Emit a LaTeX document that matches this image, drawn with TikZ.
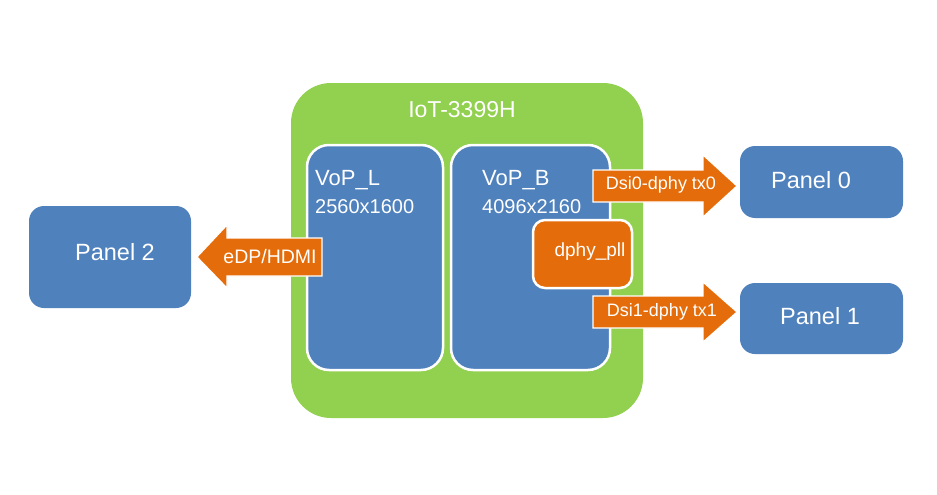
\documentclass[tikz,border=0pt]{standalone}
\usepackage{fontspec}
\setmainfont{Liberation Sans}
\definecolor{boardgreen}{HTML}{92D050}
\definecolor{vopblue}{HTML}{4F81BD}
\definecolor{pllorange}{HTML}{E46C0A}
\tikzset{
  box/.style={draw=white, line width=2.5pt, fill=vopblue, rounded corners=#1, inner sep=0pt},
  panelbox/.style={fill=vopblue, rounded corners=15pt, inner sep=0pt},
  blockarrow/.style={fill=pllorange, draw=white, line width=1.2pt, line join=miter},
  wtext/.style={text=white, inner sep=0pt, anchor=center},
}
\begin{document}
\begin{tikzpicture}[x=1pt,y=-1pt]
\useasboundingbox[fill=white] (0,0) rectangle (937,495);
% board
\node[fill=boardgreen, rounded corners=40pt, minimum width=352pt, minimum height=335pt, inner sep=0pt] (board) at (467,250.5) {};
\node[wtext, font=\fontsize{23}{27}\selectfont] (boardlbl) at (462,110) {IoT-3399H};
% VoPs
\node[box=22pt, minimum width=136pt, minimum height=225pt] (vopl) at (375,257.5) {};
\node[box=22pt, minimum width=159pt, minimum height=225pt] (vopb) at (530.5,257.5) {};
\node[wtext, anchor=west, font=\fontsize{22}{26}\selectfont] (voplname) at (315,180) {VoP\_L};
\node[wtext, anchor=west, font=\fontsize{20}{24}\selectfont] (voplres) at (315,207) {2560x1600};
\node[wtext, anchor=west, font=\fontsize{22}{26}\selectfont] (vopbname) at (482,180) {VoP\_B};
\node[wtext, anchor=west, font=\fontsize{20}{24}\selectfont] (vopbres) at (482,207) {4096x2160};
% panels
\node[panelbox, minimum width=162pt, minimum height=102pt] (panel2) at (110,257) {};
\node[wtext, font=\fontsize{23.5}{27}\selectfont] (p2lbl) at (115,252) {Panel 2};
\node[panelbox, minimum width=163pt, minimum height=72pt] (panel0) at (821.5,182) {};
\node[wtext, font=\fontsize{23.5}{27}\selectfont] (p0lbl) at (811,180) {Panel 0};
\node[panelbox, minimum width=163pt, minimum height=71pt] (panel1) at (821.5,318.5) {};
\node[wtext, font=\fontsize{23.5}{27}\selectfont] (p1lbl) at (820,316) {Panel 1};
% block arrows
\draw[blockarrow] (593,170) -- (703,170) -- (703,155) -- (737,186) -- (703,217) -- (703,202) -- (593,202) -- cycle;
\node[wtext, font=\fontsize{18}{21}\selectfont] (dsi0) at (661,185) {Dsi0-dphy tx0};
\draw[blockarrow] (593,296) -- (703,296) -- (703,282) -- (737,312) -- (703,342) -- (703,328) -- (593,328) -- cycle;
\node[wtext, font=\fontsize{18}{21}\selectfont] (dsi1) at (662,312) {Dsi1-dphy tx1};
\draw[blockarrow] (322,238) -- (227,238) -- (227,225) -- (197,257) -- (227,288) -- (227,276) -- (322,276) -- cycle;
\node[wtext, font=\fontsize{19.5}{23}\selectfont] (edp) at (270,257) {eDP/HDMI};
% pll
\node[draw=white, line width=2.5pt, fill=pllorange, rounded corners=12pt, minimum width=99pt, minimum height=68pt, inner sep=0pt] (pll) at (582.5,254) {};
\node[wtext, font=\fontsize{19}{23}\selectfont] (plllbl) at (590,252) {dphy\_pll};
\end{tikzpicture}
\end{document}
